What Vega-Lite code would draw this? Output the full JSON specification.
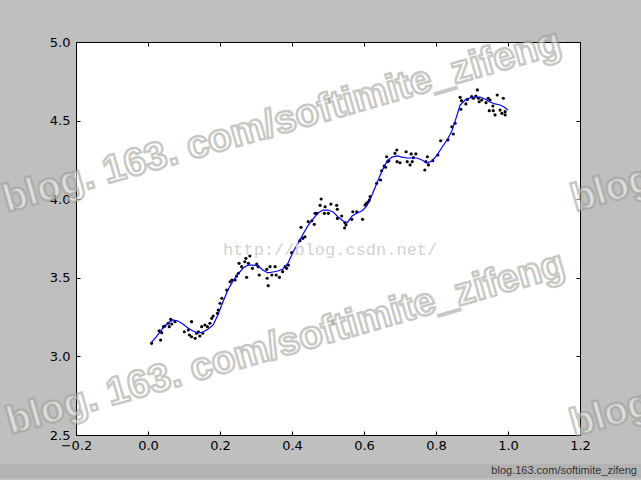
{
  "$schema": "https://vega.github.io/schema/vega-lite/v6.json",
  "width": 504,
  "height": 393,
  "autosize": {"type": "none"},
  "padding": {"left": 76, "top": 42, "right": 61, "bottom": 45},
  "background": "#bfbfbf",
  "view": {"fill": "white", "stroke": "black", "strokeWidth": 1},
  "config": {
    "axis": {
      "domain": false,
      "grid": false,
      "tickColor": "black",
      "tickSize": -4,
      "tickWidth": 1,
      "labelFont": "DejaVu Sans",
      "labelFontSize": 13,
      "labelColor": "black",
      "labelFlush": false,
      "labelOverlap": false,
      "title": null,
      "format": ".1f"
    }
  },
  "datasets": {
    "pts": [
      {"x":0.010,"y":3.083},{"x":0.031,"y":3.163},{"x":0.035,"y":3.104},{"x":0.038,"y":3.151},{"x":0.043,"y":3.189},{"x":0.047,"y":3.193},{"x":0.056,"y":3.211},{"x":0.059,"y":3.189},{"x":0.063,"y":3.236},{"x":0.066,"y":3.206},{"x":0.075,"y":3.221},{"x":0.101,"y":3.157},{"x":0.112,"y":3.168},{"x":0.115,"y":3.136},{"x":0.121,"y":3.221},{"x":0.121,"y":3.125},{"x":0.131,"y":3.115},{"x":0.135,"y":3.147},{"x":0.140,"y":3.157},{"x":0.144,"y":3.130},{"x":0.149,"y":3.189},{"x":0.152,"y":3.147},{"x":0.158,"y":3.200},{"x":0.165,"y":3.189},{"x":0.172,"y":3.211},{"x":0.177,"y":3.242},{"x":0.181,"y":3.257},{"x":0.193,"y":3.274},{"x":0.195,"y":3.295},{"x":0.200,"y":3.338},
      {"x":0.205,"y":3.370},{"x":0.219,"y":3.422},{"x":0.228,"y":3.475},{"x":0.233,"y":3.486},{"x":0.242,"y":3.486},{"x":0.246,"y":3.511},{"x":0.251,"y":3.529},{"x":0.253,"y":3.592},{"x":0.260,"y":3.571},{"x":0.269,"y":3.602},{"x":0.272,"y":3.624},{"x":0.274,"y":3.503},{"x":0.279,"y":3.592},{"x":0.283,"y":3.639},{"x":0.290,"y":3.560},{"x":0.302,"y":3.588},{"x":0.306,"y":3.571},{"x":0.309,"y":3.518},{"x":0.330,"y":3.554},{"x":0.331,"y":3.497},{"x":0.334,"y":3.450},{"x":0.339,"y":3.571},{"x":0.344,"y":3.518},{"x":0.353,"y":3.571},{"x":0.356,"y":3.518},{"x":0.365,"y":3.503},{"x":0.374,"y":3.539},{"x":0.381,"y":3.571},{"x":0.385,"y":3.560},{"x":0.390,"y":3.581},
      {"x":0.399,"y":3.660},{"x":0.422,"y":3.736},{"x":0.425,"y":3.821},{"x":0.430,"y":3.751},{"x":0.436,"y":3.761},{"x":0.445,"y":3.857},{"x":0.455,"y":3.863},{"x":0.462,"y":3.840},{"x":0.464,"y":3.910},{"x":0.469,"y":3.910},{"x":0.478,"y":3.961},{"x":0.481,"y":4.001},{"x":0.490,"y":3.910},{"x":0.492,"y":3.952},{"x":0.501,"y":3.910},{"x":0.508,"y":3.969},{"x":0.524,"y":3.961},{"x":0.526,"y":3.936},{"x":0.526,"y":3.878},
      {"x":0.538,"y":3.893},{"x":0.547,"y":3.851},{"x":0.550,"y":3.836},{"x":0.546,"y":3.817},{"x":0.566,"y":3.872},{"x":0.569,"y":3.920},{"x":0.580,"y":3.920},{"x":0.596,"y":3.872},{"x":0.603,"y":3.963},{"x":0.607,"y":3.974},{"x":0.612,"y":3.984},{"x":0.617,"y":4.016},{"x":0.615,"y":3.995},{"x":0.635,"y":4.101},{"x":0.646,"y":4.122},{"x":0.649,"y":4.181},{"x":0.656,"y":4.211},{"x":0.660,"y":4.203},{"x":0.663,"y":4.270},{"x":0.666,"y":4.239},{"x":0.669,"y":4.245},{"x":0.686,"y":4.292},{"x":0.691,"y":4.313},{"x":0.692,"y":4.239},{"x":0.700,"y":4.232},{"x":0.717,"y":4.302},{"x":0.720,"y":4.239},{"x":0.728,"y":4.218},{"x":0.731,"y":4.288},{"x":0.734,"y":4.239},{"x":0.737,"y":4.264},{"x":0.744,"y":4.288},{"x":0.769,"y":4.186},{"x":0.772,"y":4.239},{"x":0.776,"y":4.270},{"x":0.779,"y":4.218},{"x":0.791,"y":4.245},{"x":0.805,"y":4.281},{"x":0.813,"y":4.372},{"x":0.833,"y":4.377},{"x":0.848,"y":4.415},
      {"x":0.844,"y":4.461},{"x":0.853,"y":4.483},{"x":0.867,"y":4.648},{"x":0.871,"y":4.627},{"x":0.869,"y":4.572},{"x":0.883,"y":4.606},{"x":0.887,"y":4.635},{"x":0.899,"y":4.652},{"x":0.904,"y":4.642},{"x":0.911,"y":4.656},{"x":0.915,"y":4.695},{"x":0.918,"y":4.642},{"x":0.920,"y":4.620},{"x":0.927,"y":4.631},{"x":0.939,"y":4.614},{"x":0.945,"y":4.642},{"x":0.948,"y":4.563},{"x":0.950,"y":4.631},{"x":0.958,"y":4.593},{"x":0.959,"y":4.563},{"x":0.964,"y":4.536},{"x":0.970,"y":4.663},{"x":0.978,"y":4.567},{"x":0.983,"y":4.546},{"x":0.987,"y":4.642},{"x":0.992,"y":4.557},{"x":0.992,"y":4.536}
    ],
    "fit": [
      {"x":0.008,"y":3.085},{"x":0.025,"y":3.130},{"x":0.039,"y":3.174},{"x":0.056,"y":3.212},{"x":0.069,"y":3.232},{"x":0.083,"y":3.225},{"x":0.097,"y":3.206},{"x":0.111,"y":3.181},{"x":0.125,"y":3.162},{"x":0.139,"y":3.149},{"x":0.153,"y":3.155},{"x":0.167,"y":3.174},{"x":0.181,"y":3.200},{"x":0.194,"y":3.263},{"x":0.208,"y":3.346},{"x":0.222,"y":3.422},{"x":0.236,"y":3.480},{"x":0.250,"y":3.524},{"x":0.264,"y":3.562},{"x":0.278,"y":3.581},{"x":0.292,"y":3.581},{"x":0.306,"y":3.575},{"x":0.319,"y":3.550},{"x":0.333,"y":3.531},{"x":0.347,"y":3.537},{"x":0.361,"y":3.543},{"x":0.375,"y":3.556},{"x":0.389,"y":3.594},{"x":0.403,"y":3.664},{"x":0.417,"y":3.721},{"x":0.431,"y":3.779},{"x":0.444,"y":3.830},{"x":0.458,"y":3.874},{"x":0.472,"y":3.912},{"x":0.486,"y":3.931},{"x":0.500,"y":3.931},{"x":0.514,"y":3.919},{"x":0.528,"y":3.887},{"x":0.542,"y":3.861},{"x":0.553,"y":3.849},{"x":0.567,"y":3.893},{"x":0.581,"y":3.912},{"x":0.594,"y":3.925},{"x":0.608,"y":3.957},{"x":0.622,"y":4.027},{"x":0.636,"y":4.103},{"x":0.650,"y":4.179},{"x":0.664,"y":4.243},{"x":0.678,"y":4.268},{"x":0.692,"y":4.275},{"x":0.706,"y":4.268},{"x":0.719,"y":4.262},{"x":0.733,"y":4.262},{"x":0.747,"y":4.262},{"x":0.761,"y":4.249},{"x":0.775,"y":4.230},{"x":0.789,"y":4.243},{"x":0.803,"y":4.281},{"x":0.817,"y":4.332},{"x":0.831,"y":4.377},{"x":0.844,"y":4.434},{"x":0.856,"y":4.517},{"x":0.867,"y":4.599},{"x":0.881,"y":4.631},{"x":0.894,"y":4.644},{"x":0.908,"y":4.650},{"x":0.922,"y":4.650},{"x":0.936,"y":4.637},{"x":0.950,"y":4.618},{"x":0.964,"y":4.606},{"x":0.978,"y":4.599},{"x":0.989,"y":4.587},{"x":1.000,"y":4.567}
    ],
    "marks": [
      {"x":0.372,"y":4.497,"label":"blog. 163. com/softimite_zifeng"},
      {"x":0.382,"y":3.085,"label":"blog. 163. com/softimite_zifeng"}
    ],
    "marksEdge": [
      {"x":1.178,"y":3.995,"label":"blog. 163. com/softimite_zifeng"},
      {"x":1.175,"y":2.564,"label":"blog. 163. com/softimite_zifeng"}
    ],
    "csdn": [{"x":0.506,"y":3.677,"label":"http://blog.csdn.net/"}],
    "bar": [{"x1":-0.42,"x2":1.38,"y1":2.3155,"y2":2.2265,"x":1.358,"y":2.271,"label":"blog.163.com/softimite_zifeng"}]
  },
  "layer": [
    {
      "data": {"name": "pts"},
      "mark": {"type": "circle", "size": 10, "color": "black", "opacity": 1},
      "encoding": {
        "x": {"field": "x", "type": "quantitative", "scale": {"domain": [-0.2, 1.2], "nice": false, "zero": false},
              "axis": {"orient": "bottom", "values": [-0.2, 0, 0.2, 0.4, 0.6, 0.8, 1.0, 1.2], "labelPadding": 8}},
        "y": {"field": "y", "type": "quantitative", "scale": {"domain": [2.5, 5.0], "nice": false, "zero": false},
              "axis": {"orient": "left", "values": [2.5, 3.0, 3.5, 4.0, 4.5, 5.0], "labelPadding": 10}}
      }
    },
    {
      "data": {"name": "fit"},
      "mark": {"type": "line", "color": "#0000ff", "strokeWidth": 1.2},
      "encoding": {
        "x": {"field": "x", "type": "quantitative",
              "axis": {"orient": "top", "values": [-0.2, 0, 0.2, 0.4, 0.6, 0.8, 1.0, 1.2], "labels": false}},
        "y": {"field": "y", "type": "quantitative",
              "axis": {"orient": "right", "values": [2.5, 3.0, 3.5, 4.0, 4.5, 5.0], "labels": false}}
      }
    },
    {
      "data": {"name": "csdn"},
      "mark": {"type": "text", "font": "Liberation Mono", "fontSize": 17, "color": "#d2d2d2", "align": "center", "baseline": "middle"},
      "encoding": {
        "x": {"field": "x", "type": "quantitative", "axis": null},
        "y": {"field": "y", "type": "quantitative", "axis": null},
        "text": {"field": "label"}
      }
    },
    {
      "data": {"name": "marks"},
      "mark": {"type": "text", "font": "Liberation Sans", "fontWeight": "bold", "fontSize": 39, "angle": -16, "align": "center", "baseline": "middle",
               "fill": "white", "fillOpacity": 0.5, "stroke": "#919189", "strokeOpacity": 0.5, "strokeWidth": 2.5},
      "encoding": {
        "x": {"field": "x", "type": "quantitative", "axis": null},
        "y": {"field": "y", "type": "quantitative", "axis": null},
        "text": {"field": "label"}
      }
    },
    {
      "data": {"name": "marksEdge"},
      "mark": {"type": "text", "font": "Liberation Sans", "fontWeight": "bold", "fontSize": 39, "angle": -16, "align": "left", "baseline": "middle",
               "fill": "white", "fillOpacity": 0.5, "stroke": "#919189", "strokeOpacity": 0.5, "strokeWidth": 2.5},
      "encoding": {
        "x": {"field": "x", "type": "quantitative", "axis": null},
        "y": {"field": "y", "type": "quantitative", "axis": null},
        "text": {"field": "label"}
      }
    },
    {
      "data": {"name": "bar"},
      "mark": {"type": "rect", "color": "#b3b3b3"},
      "encoding": {
        "x": {"field": "x1", "type": "quantitative", "axis": null},
        "x2": {"field": "x2"},
        "y": {"field": "y1", "type": "quantitative", "axis": null},
        "y2": {"field": "y2"}
      }
    },
    {
      "data": {"name": "bar"},
      "mark": {"type": "text", "font": "Liberation Sans", "fontSize": 11, "color": "#333333", "align": "right", "baseline": "middle"},
      "encoding": {
        "x": {"field": "x", "type": "quantitative", "axis": null},
        "y": {"field": "y", "type": "quantitative", "axis": null},
        "text": {"field": "label"}
      }
    }
  ],
  "resolve": {"axis": {"x": "independent", "y": "independent"}}
}
